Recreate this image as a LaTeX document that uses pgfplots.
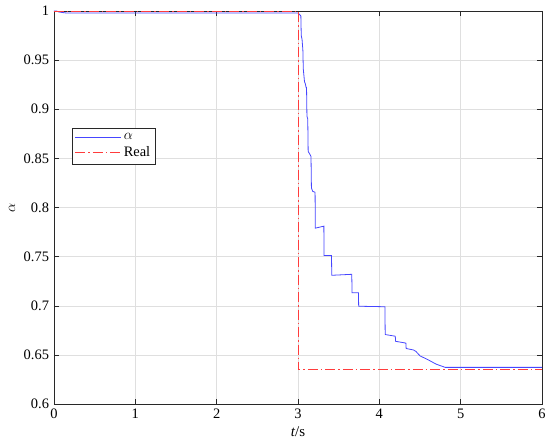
\documentclass[border=0pt]{standalone}
\usepackage{fontspec}
\setmainfont{Liberation Serif}
\usepackage{pgfplots}
\pgfplotsset{compat=1.18}
\definecolor{ablue}{RGB}{70,70,255}
\definecolor{redreal}{RGB}{255,60,60}
\definecolor{axgray}{RGB}{40,40,40}
\begin{document}
\fontsize{14.5}{17}\selectfont
\begin{tikzpicture}
\begin{axis}[
  name=ax,
  scale only axis, width=488bp, height=393bp,
  xmin=0, xmax=6, ymin=0.6, ymax=1,
  xtick={0,1,2,3,4,5,6},
  ytick={0.6,0.65,0.7,0.75,0.8,0.85,0.9,0.95,1},
  yticklabels={0.6,0.65,0.7,0.75,0.8,0.85,0.9,0.95,1},
  /pgf/number format/assume math mode=true,
  tick label style={font=\fontsize{14.5}{17}\selectfont},
  label style={font=\fontsize{15}{17}\selectfont},
  xlabel={\textit{t}/s},
  ylabel={$\alpha$},
  xlabel style={at={(axis description cs:0.5,-0.0712)}, anchor=center},
  ylabel style={at={(axis description cs:-0.086,0.5)}, anchor=center, rotate=0},
  grid=major,
  major grid style={draw=gray!25, line width=0.5pt},
  tick align=inside,
  major tick length=5bp,
  tick style={draw=axgray, line width=0.5pt},
  axis line style={draw=axgray, line width=0.6pt},
  legend style={at={(0.036,0.7015)}, anchor=north west, draw=axgray,
    font=\fontsize{14.5}{17}\selectfont, inner xsep=3bp, inner ysep=3bp, row sep=1bp,
    legend cell align=left},
  legend image code/.code={\draw[#1] (0bp,0bp) -- (46bp,0bp);},
  clip=true,
]
\addplot[draw=ablue, line width=0.8pt] coordinates {
(0,1) (0.03,1) (0.06,0.999) (0.1,0.9985) (0.15,0.998) (3.0,0.998)
(3.035,0.995) (3.04,0.975) (3.05,0.971) (3.06,0.96) (3.065,0.941)
(3.08,0.928) (3.09,0.926) (3.10,0.922) (3.105,0.922) (3.11,0.893)
(3.12,0.89) (3.125,0.857) (3.14,0.855) (3.16,0.852) (3.165,0.82)
(3.18,0.8165) (3.21,0.8155) (3.213,0.779) (3.318,0.781) (3.32,0.7512)
(3.412,0.7512) (3.415,0.731) (3.661,0.732) (3.665,0.7132) (3.743,0.7132)
(3.746,0.6995) (4.069,0.699) (4.072,0.6707) (4.196,0.669) (4.2,0.6638)
(4.326,0.662) (4.33,0.6565) (4.42,0.655) (4.45,0.6535) (4.5,0.649)
(4.6,0.645) (4.7,0.6405) (4.81,0.6373) (6,0.6373)
};
\addlegendentry{$\alpha$}
\addplot[draw=redreal, color=redreal, line width=1pt, dash pattern=on 10bp off 3bp on 1.5bp off 3bp] coordinates {
(0,1) (3.0,1) (3.0,0.635) (6,0.635)
};
\addlegendentry{Real}
\end{axis}
\pgfresetboundingbox
\path ([xshift=-54bp,yshift=-40bp]ax.south west) rectangle ([xshift=8bp,yshift=11bp]ax.north east);
\end{tikzpicture}
\end{document}
